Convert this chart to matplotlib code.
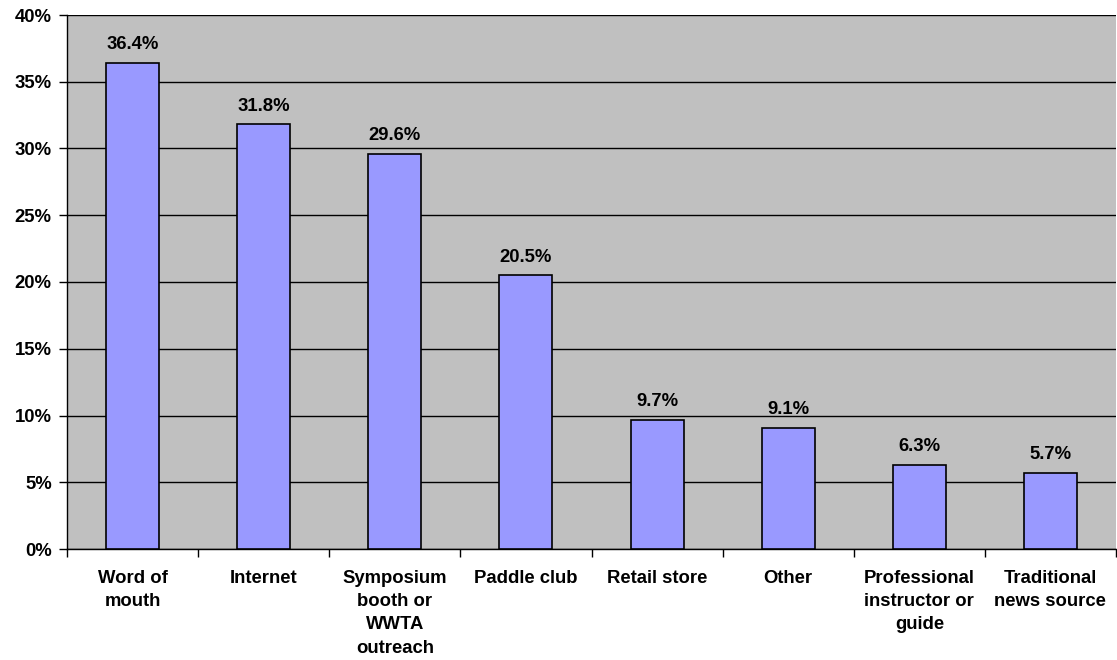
import matplotlib
matplotlib.use("Agg")
import matplotlib.pyplot as plt
from matplotlib.ticker import FuncFormatter, MultipleLocator

categories = ["Word of\nmouth", "Internet", "Symposium\nbooth or\nWWTA\noutreach",
              "Paddle club", "Retail store", "Other",
              "Professional\ninstructor or\nguide", "Traditional\nnews source"]
values = [36.4, 31.8, 29.6, 20.5, 9.7, 9.1, 6.3, 5.7]

plt.rcParams['font.family'] = ['Liberation Sans', 'DejaVu Sans']
plt.rcParams['font.weight'] = 'bold'

FS = 13.3
W, H = 1117, 660
fig = plt.figure(figsize=(W / 100, H / 100), dpi=100)
ax = fig.add_axes([67 / W, 1 - 549 / H, (1116 - 67) / W, (549 - 15) / H])
ax.set_facecolor('#C0C0C0')

x = list(range(len(values)))
ax.bar(x, values, width=0.405, color='#9999FF', edgecolor='black', linewidth=1.2, zorder=3)
for xi, v in zip(x, values):
    ax.annotate(f"{v:.1f}%", (xi, v), xytext=(0, 7), textcoords='offset points',
                ha='center', va='bottom', fontsize=FS, fontweight='bold', zorder=4)

ax.set_xlim(-0.5, len(values) - 0.5)
ax.set_ylim(0, 40)
ax.yaxis.set_major_locator(MultipleLocator(5))
ax.yaxis.set_major_formatter(FuncFormatter(lambda v, p: f"{int(v)}%"))
ax.grid(axis='y', color='black', linewidth=1.0, zorder=1)
ax.set_axisbelow(True)

ax.set_xticks([i + 0.5 for i in range(-1, len(values))])
ax.set_xticklabels([])
ax.set_xticks(x, minor=True)
ax.set_xticklabels(categories, minor=True, fontsize=FS, fontweight='bold', linespacing=1.48)
ax.tick_params(axis='x', which='minor', length=0, pad=15)
ax.tick_params(axis='x', which='major', length=6, width=1, direction='out')
ax.tick_params(axis='y', length=6, width=1, direction='out', labelsize=FS, pad=5)
for lab in ax.get_yticklabels():
    lab.set_fontweight('bold')

for s in ['top', 'right']:
    ax.spines[s].set_visible(False)
ax.spines['left'].set_linewidth(1.0)
ax.spines['bottom'].set_linewidth(1.0)

fig.savefig('out.png', dpi=100)
